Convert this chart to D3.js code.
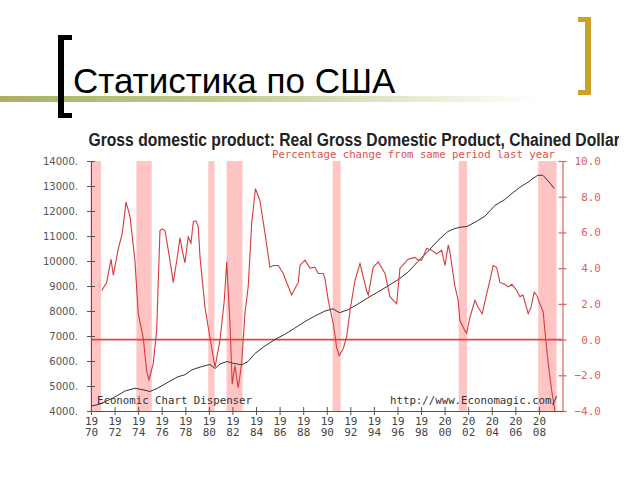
<!DOCTYPE html>
<html><head><meta charset="utf-8">
<script src="https://cdn.jsdelivr.net/npm/d3@7"></script>
<style>body{margin:0;background:#fff}svg{display:block}</style>
</head><body>
<svg id="c" width="640" height="480"></svg>
<script>
// ---- data ----
const slideTitle = "Статистика по США";
const chartTitle = "Gross domestic product: Real Gross Domestic Product, Chained Dollars";
const subTitle = "Percentage change from same period last year";
const leftNote = "Economic Chart Dispenser";
const rightNote = "http://www.Economagic.com/";

const gdpYears = [1970.06,1970.76,1971.87,1972.88,1973.73,1974.41,1975.00,1975.68,1976.53,1977.38,1977.97,1978.57,1979.41,1980.09,1980.52,1980.94,1981.53,1982.13,1982.81,1983.32,1983.91,1984.76,1985.61,1986.45,1987.30,1988.15,1989.00,1989.85,1990.53,1991.08,1991.80,1992.65,1993.49,1994.34,1995.19,1996.04,1996.89,1997.73,1998.58,1999.43,2000.28,2000.87,2001.30,2001.89,2002.57,2003.42,2004.26,2005.11,2005.71,2006.39,2007.07,2007.49,2007.91,2008.33,2008.79,2009.30];
const gdpValues = [4200,4280,4520,4800,4910,4850,4780,4920,5150,5370,5450,5650,5780,5860,5700,5880,5980,5900,5850,5980,6300,6600,6860,7070,7320,7580,7800,8000,8090,7930,8050,8280,8530,8760,9000,9250,9550,9980,10380,10820,11180,11300,11350,11380,11550,11790,12220,12460,12700,12950,13150,13300,13430,13430,13200,12900];

const pctYears = [1970.91,1971.33,1971.70,1971.89,1972.32,1972.65,1972.97,1973.31,1973.73,1974.01,1974.44,1974.72,1974.92,1975.28,1975.57,1975.85,1976.06,1976.28,1976.56,1976.98,1977.27,1977.55,1977.74,1977.97,1978.25,1978.48,1978.68,1978.91,1979.10,1979.25,1979.67,1980.09,1980.52,1980.94,1981.31,1981.51,1981.79,1981.98,1982.21,1982.49,1982.78,1983.06,1983.34,1983.63,1983.95,1984.33,1984.76,1985.18,1985.46,1985.89,1986.31,1986.60,1987.02,1987.58,1987.73,1988.15,1988.58,1989.00,1989.28,1989.70,1989.85,1990.13,1990.55,1990.84,1991.06,1991.40,1991.69,1991.97,1992.39,1992.82,1993.38,1993.52,1993.94,1994.37,1994.94,1995.36,1995.93,1996.21,1996.91,1997.48,1997.76,1998.05,1998.47,1998.90,1999.32,1999.75,2000.03,2000.31,2000.45,2000.87,2001.15,2001.30,2001.72,2001.87,2002.15,2002.57,2002.85,2003.19,2003.56,2003.84,2004.12,2004.41,2004.69,2005.11,2005.39,2005.71,2006.11,2006.39,2006.64,2007.09,2007.32,2007.60,2007.80,2008.08,2008.36,2008.57,2008.79,2009.08,2009.36];
const pctValues = [2.75,3.2,4.5,3.6,5.1,5.95,7.7,6.9,4.4,1.45,0.05,-1.75,-2.25,-1.35,0.5,6.1,6.2,6.1,5.0,3.2,4.4,5.7,5.0,4.3,5.75,5.4,6.6,6.65,6.3,4.6,1.8,0.1,-1.55,-0.05,2.2,4.35,0.9,-2.5,-1.45,-2.7,-1.35,1.45,3.0,6.5,8.45,7.8,5.95,4.05,4.15,4.15,3.7,3.2,2.5,3.2,4.15,4.45,4.0,4.05,3.7,3.7,3.4,2.2,0.9,-0.45,-0.9,-0.5,0.15,1.6,3.3,4.25,2.75,2.5,4.05,4.35,3.7,2.4,2.0,4.0,4.5,4.6,4.45,4.45,5.1,5.0,4.8,5.0,4.15,5.3,4.9,3.0,2.2,1.05,0.5,0.35,1.25,2.2,1.8,1.45,2.55,3.3,4.15,4.05,3.2,3.1,2.95,3.1,2.75,2.4,2.5,1.45,1.8,2.65,2.5,2.0,1.55,0.05,-1.35,-2.85,-4.0];

const recessionStart = [1969.95,1973.85,1979.95,1981.50,1990.50,2001.20,2007.94];
const recessionEnd   = [1970.85,1975.15,1980.47,1982.85,1991.18,2001.90,2009.50];

const leftTicks = [4000,5000,6000,7000,8000,9000,10000,11000,12000,13000,14000];
const rightTicks = [-4,-2,0,2,4,6,8,10];
const xTicks = [1970,1972,1974,1976,1978,1980,1982,1984,1986,1988,1990,1992,1994,1996,1998,2000,2002,2004,2006,2008];

// ---- drawing ----
const svg = d3.select("#c");
const x = d3.scaleLinear().domain([1970, 2010]).range([91, 562.5]);
const yL = d3.scaleLinear().domain([4000, 14000]).range([411, 161]);
const yR = d3.scaleLinear().domain([-4, 10]).range([411, 161]);

// slide decoration
const defs = svg.append("defs");
const grad = defs.append("linearGradient").attr("id","bar").attr("x1","0").attr("x2","1");
grad.append("stop").attr("offset","0").attr("stop-color","#a9b063");
grad.append("stop").attr("offset","0.45").attr("stop-color","#c8cd96");
grad.append("stop").attr("offset","1").attr("stop-color","#ffffff");
svg.append("rect").attr("x",0).attr("y",96).attr("width",540).attr("height",6).attr("fill","url(#bar)");

// left bracket (black)
svg.append("path").attr("d","M72,35 H58 V118 H72 V113 H64 V40 H72 Z").attr("fill","#000");
// right bracket (gold)
svg.append("path").attr("d","M578,17 H591 V95 H578 V90 H585 V22 H578 Z").attr("fill","#c9a227");

svg.append("text").attr("x",73).attr("y",93)
  .attr("font-family","Liberation Sans, Arial, sans-serif").attr("font-size",35)
  .attr("fill","#000").text(slideTitle);

// chart title (clipped like the embedded picture)
defs.append("clipPath").attr("id","imgclip").append("rect").attr("x",0).attr("y",0).attr("width",619).attr("height",480);
svg.append("text").attr("clip-path","url(#imgclip)")
  .attr("x",88.5).attr("y",146)
  .attr("font-family","Liberation Sans, Arial, sans-serif").attr("font-weight","bold").attr("font-size",17.5)
  .attr("textLength",540).attr("lengthAdjust","spacingAndGlyphs")
  .attr("fill","#222").text(chartTitle);

svg.append("text").attr("x",272).attr("y",158)
  .attr("font-family","DejaVu Sans Mono, monospace").attr("font-size",10.5)
  .attr("textLength",283).attr("lengthAdjust","spacingAndGlyphs")
  .attr("fill","#e05050").text(subTitle);

// recession bands
svg.append("g").selectAll("rect").data(recessionStart).join("rect")
  .attr("x", (d,i) => x(d)).attr("width", (d,i) => x(recessionEnd[i]) - x(d))
  .attr("y", yR(10)).attr("height", yR(-4) - yR(10))
  .attr("fill", "#ffc4c4");

// zero line
svg.append("line").attr("x1", x(1970)).attr("x2", x(2010)).attr("y1", yR(0)).attr("y2", yR(0))
  .attr("stroke", "#e04646").attr("stroke-width", 1.8);

// GDP line
const gdpData = gdpYears.map((t,i) => [t, gdpValues[i]]);
svg.append("path").datum(gdpData)
  .attr("d", d3.line().x(d => x(d[0])).y(d => yL(d[1])))
  .attr("fill","none").attr("stroke","#333").attr("stroke-width",1);

// percent change line
const pctData = pctYears.map((t,i) => [t, pctValues[i]]);
svg.append("path").datum(pctData)
  .attr("d", d3.line().x(d => x(d[0])).y(d => yR(d[1])))
  .attr("fill","none").attr("stroke","#d83a3a").attr("stroke-width",1.1);

// left axis
const gL = svg.append("g").attr("transform", `translate(${x(1970)},0)`)
  .call(d3.axisLeft(yL).tickValues(leftTicks).tickFormat(d => d + ".").tickSizeInner(4).tickSizeOuter(0).tickPadding(9));
gL.select(".domain").attr("stroke","#555");
gL.selectAll(".tick line").attr("x1",-4).attr("x2",4).attr("stroke","#555");
gL.selectAll(".tick text").attr("font-family","DejaVu Sans, Verdana, sans-serif").attr("font-size",10).attr("fill","#555");

// right axis
const gR = svg.append("g").attr("transform", `translate(${x(2010)},0)`)
  .call(d3.axisRight(yR).tickValues(rightTicks).tickFormat(d3.format(".1f")).tickSizeInner(4).tickSizeOuter(0));
gR.select(".domain").attr("stroke","#e06060").attr("stroke-width",1.2);
gR.selectAll(".tick line").attr("x1",-4).attr("x2",4).attr("stroke","#e06060").attr("stroke-width",1.2);
gR.selectAll(".tick text").attr("x",38.5).attr("text-anchor","end")
  .attr("font-family","DejaVu Sans Mono, monospace").attr("font-size",11).attr("fill","#e06060");

// bottom axis
const gB = svg.append("g").attr("transform", `translate(0,${yR(-4)})`)
  .call(d3.axisBottom(x).tickValues(xTicks).tickFormat("").tickSizeInner(4).tickSizeOuter(0));
gB.select(".domain").attr("stroke","#555");
gB.selectAll(".tick line").attr("y1",-4).attr("y2",4).attr("stroke","#555");
gB.selectAll(".tick").each(function(d){
  const s = String(d);
  const g = d3.select(this);
  g.append("text").attr("text-anchor","middle").attr("y",13.5)
    .attr("font-family","DejaVu Sans Mono, monospace").attr("font-size",11).attr("fill","#444").text(s.slice(0,2));
  g.append("text").attr("text-anchor","middle").attr("y",24.5)
    .attr("font-family","DejaVu Sans Mono, monospace").attr("font-size",11).attr("fill","#444").text(s.slice(2));
});

// notes
svg.append("text").attr("x",97).attr("y",404)
  .attr("font-family","DejaVu Sans Mono, monospace").attr("font-size",10.5)
  .attr("textLength",155).attr("lengthAdjust","spacingAndGlyphs")
  .attr("fill","#333").text(leftNote);
svg.append("text").attr("x",390).attr("y",404)
  .attr("font-family","DejaVu Sans Mono, monospace").attr("font-size",10.5)
  .attr("textLength",168).attr("lengthAdjust","spacingAndGlyphs")
  .attr("fill","#333").text(rightNote);
</script>
</body></html>
